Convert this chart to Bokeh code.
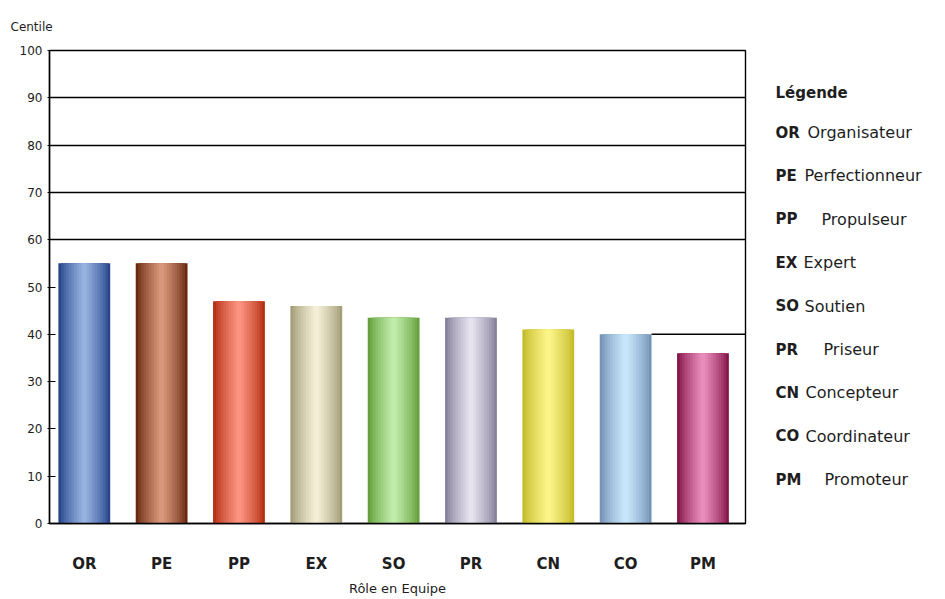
from bokeh.plotting import figure
from bokeh.layouts import row
from bokeh.models import Range1d, FixedTicker, ColumnDataSource
from bokeh.core.properties import value
from bokeh.embed import file_html
from bokeh.resources import INLINE

# ---- data ----
roles = ["OR", "PE", "PP", "EX", "SO", "PR", "CN", "CO", "PM"]
centiles = [55, 55, 47, 46, 43.5, 43.5, 41, 40, 36]
role_names = ["Organisateur", "Perfectionneur", "Propulseur", "Expert", "Soutien",
              "Priseur", "Concepteur", "Coordinateur", "Promoteur"]
y_ticks = [0, 10, 20, 30, 40, 50, 60, 70, 80, 90, 100]
grid_values = [60, 70, 80, 90]
partial_grid_value = 40

# ---- style ----
edge_colors = ["#27468a", "#6a2a12", "#b52e12", "#a39d78", "#64a03c",
               "#86809a", "#c4bc2a", "#7594b6", "#86164a"]
center_colors = ["#95b2e0", "#d9977a", "#fb9380", "#f4eed6", "#c0ecaa",
                 "#e6e2ee", "#fcf488", "#c8e6fb", "#e88cbb"]
name_indent = [47, 44, 61, 43, 44, 63, 45, 45, 64]
FONT = "DejaVu Sans"
TXT = "#1e1e1e"
bar_w = 0.67

FRAME_TOP, FRAME_BOTTOM = 50, 523


def hex2rgb(h):
    h = h.lstrip("#")
    return tuple(int(h[i:i + 2], 16) for i in (0, 2, 4))


def blend(c1, c2, t):
    a, b = hex2rgb(c1), hex2rgb(c2)
    return "#%02x%02x%02x" % tuple(int(round(a[i] + (b[i] - a[i]) * t)) for i in range(3))


idx = list(range(len(roles)))

p = figure(width=760, height=599, x_range=Range1d(-0.45, len(roles) - 0.45),
           y_range=Range1d(0, 100), output_backend="svg", toolbar_location=None,
           min_border_left=49, min_border_right=15, min_border_top=FRAME_TOP,
           min_border_bottom=599 - FRAME_BOTTOM, background_fill_color="white",
           border_fill_color="white")
p.outline_line_color = "black"
p.outline_line_width = 1.4

# gradient cylinder-like bars
n_layers = 10
for k in range(n_layers):
    t = k / (n_layers - 1)
    w = bar_w * (1 - 0.9 * t)
    cols = [blend(e, c, t ** 0.8) for e, c in zip(edge_colors, center_colors)]
    src = ColumnDataSource(dict(x=idx, top=centiles, color=cols))
    p.vbar(x="x", top="top", width=w, bottom=0, source=src,
           fill_color="color", line_color=None)

# partial gridline at 40 right of CO
co_i = roles.index("CO")
p.segment(x0=[co_i + bar_w / 2], x1=[len(roles) - 0.45],
          y0=[partial_grid_value], y1=[partial_grid_value],
          line_color="black", line_width=1.4)

# grid
p.xgrid.visible = False
p.ygrid.ticker = FixedTicker(ticks=grid_values)
p.ygrid.grid_line_color = "black"
p.ygrid.grid_line_width = 1.4
p.ygrid.grid_line_alpha = 1

# y axis
p.yaxis.ticker = FixedTicker(ticks=y_ticks)
p.yaxis.axis_line_color = "black"
p.yaxis.axis_line_width = 1.4
p.yaxis.major_tick_in = 6
p.yaxis.major_tick_out = 2
p.yaxis.minor_tick_line_color = None
p.yaxis.major_tick_line_color = "black"
p.yaxis.major_label_text_font = FONT
p.yaxis.major_label_text_font_size = "12px"
p.yaxis.major_label_text_color = TXT
p.yaxis.major_label_standoff = 5

# x axis
p.xaxis.ticker = FixedTicker(ticks=idx)
p.xaxis.major_label_overrides = {i: r for i, r in zip(idx, roles)}
p.xaxis.axis_line_color = "black"
p.xaxis.axis_line_width = 1.6
p.xaxis.major_tick_line_color = None
p.xaxis.minor_tick_line_color = None
p.xaxis.major_label_text_font = FONT
p.xaxis.major_label_text_font_style = "bold"
p.xaxis.major_label_text_font_size = "15px"
p.xaxis.major_label_text_color = TXT
p.xaxis.major_label_standoff = 25
p.xaxis.axis_label = "Rôle en Equipe"
p.xaxis.axis_label_text_font = FONT
p.xaxis.axis_label_text_font_style = "normal"
p.xaxis.axis_label_text_font_size = "13px"
p.xaxis.axis_label_text_color = TXT
p.xaxis.axis_label_standoff = 5

# title "Centile"
p.title.text = "Centile"
p.title.align = "left"
p.title.offset = -39
p.title.standoff = 34
p.title.text_font = FONT
p.title.text_font_style = "normal"
p.title.text_font_size = "12px"
p.title.text_color = TXT

# ---- legend panel (frame aligned with main plot frame; y in page pixels) ----
lw = 185
lg = figure(width=lw, height=599, x_range=Range1d(0, lw),
            y_range=Range1d(FRAME_BOTTOM, FRAME_TOP),
            output_backend="svg", toolbar_location=None,
            x_axis_location=None, y_axis_location=None,
            min_border=0, min_border_left=0, min_border_right=0,
            min_border_top=FRAME_TOP, min_border_bottom=599 - FRAME_BOTTOM,
            background_fill_color="white", border_fill_color="white")
lg.grid.visible = False
lg.outline_line_color = None

step = 43.4
first = 132
ys = [first + i * step for i in range(len(roles))]
lg.text(x=[15], y=[first - 40], text=["Légende"], text_font=value(FONT),
        text_font_style="bold", text_font_size="15px", text_color=TXT,
        text_baseline="middle")
lg.text(x=[15] * len(roles), y=ys, text=roles, text_font=value(FONT),
        text_font_style="bold", text_font_size="15px", text_color=TXT,
        text_baseline="middle")
lg.text(x=name_indent, y=ys, text=role_names, text_font=value(FONT),
        text_font_size="16px", text_color=TXT, text_baseline="middle")

layout = row(p, lg)
open("out.html", "w").write(file_html(layout, INLINE))
